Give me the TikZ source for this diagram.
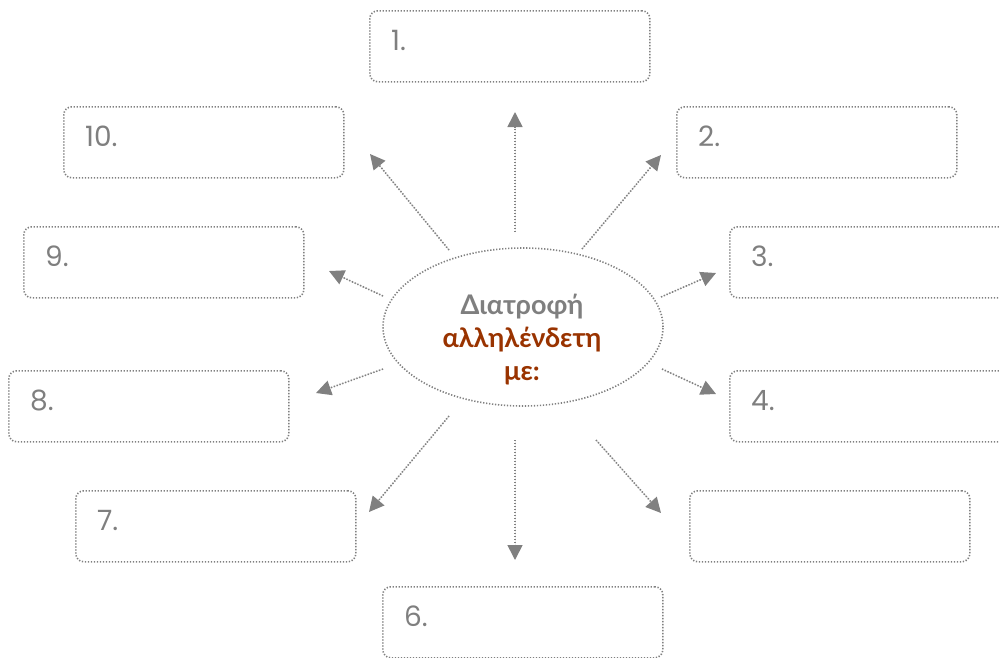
\documentclass[tikz,border=0pt]{standalone}
\usepackage{fontspec}
\setmainfont{Lato}
\newfontfamily\numfont{Poppins}
\usetikzlibrary{arrows.meta,shapes.geometric}
\definecolor{dgrey}{HTML}{7F7F7F}
\definecolor{lgrey}{HTML}{808080}
\definecolor{rbrown}{HTML}{993300}
\begin{document}
\begin{tikzpicture}[x=1pt,y=-1pt,
  dotline/.style={draw=lgrey, line width=1.6pt, dash pattern=on 1.3pt off 1.7pt},
  box/.style={dotline, rounded corners=8pt, minimum width=280pt, minimum height=71pt, anchor=north west, inner sep=0pt},
  num/.style={anchor=base west, text=dgrey, font=\numfont\fontsize{28}{30}\selectfont, inner sep=0pt},
  conn/.style={dotline, -{Triangle[length=15pt,width=15pt]}, draw=lgrey, fill=dgrey},
  centre/.style={dotline, ellipse, minimum width=280pt, minimum height=158pt, inner sep=0pt, align=center}
]
\useasboundingbox (0,0) rectangle (999,657);
\clip (0,0) rectangle (999,657);
% boxes
\node[box] (b1) at (369,10) {};
\node[box] (b2) at (676,106) {};
\node[box] (b3) at (729,226) {};
\node[box] (b4) at (729,370) {};
\node[box] (b5) at (689,490) {};
\node[box] (b6) at (382,586) {};
\node[box] (b7) at (75,490) {};
\node[box] (b8) at (8,370) {};
\node[box] (b9) at (23,226) {};
\node[box] (b10) at (63,106) {};
% labels
\node[num] (l1) at ([xshift=22pt,yshift=-40pt]b1.north west) {1.};
\node[num] (l2) at ([xshift=22pt,yshift=-40pt]b2.north west) {2.};
\node[num] (l3) at ([xshift=22pt,yshift=-40pt]b3.north west) {3.};
\node[num] (l4) at ([xshift=22pt,yshift=-40pt]b4.north west) {4.};
\node[num] (l6) at ([xshift=22pt,yshift=-40pt]b6.north west) {6.};
\node[num] (l7) at ([xshift=22pt,yshift=-40pt]b7.north west) {7.};
\node[num] (l8) at ([xshift=22pt,yshift=-40pt]b8.north west) {8.};
\node[num] (l9) at ([xshift=22pt,yshift=-40pt]b9.north west) {9.};
\node[num] (l10) at ([xshift=22pt,yshift=-40pt]b10.north west) {10.};
% centre
\node[centre] (c) at (523,327) {};
\node[align=center, font=\bfseries\fontsize{27}{33}\selectfont, inner sep=0pt] (ct) at (522,340)
  {\textcolor{dgrey}{Διατροφή}\\\textcolor{rbrown}{αλληλένδετη}\\\textcolor{rbrown}{με:}};
% connector ends
\coordinate (s1) at (515,232);  \coordinate (t1) at (515,112);
\coordinate (s2) at (582,249);  \coordinate (t2) at (661,155);
\coordinate (s3) at (661,297);  \coordinate (t3) at (716,273);
\coordinate (s4) at (662,369);  \coordinate (t4) at (716,394);
\coordinate (s5) at (596,440);  \coordinate (t5) at (661,513);
\coordinate (s6) at (515,440);  \coordinate (t6) at (515,560);
\coordinate (s7) at (449,416);  \coordinate (t7) at (369,512);
\coordinate (s8) at (383,369);  \coordinate (t8) at (316,393);
\coordinate (s9) at (383,296);  \coordinate (t9) at (329,271);
\coordinate (s10) at (449,250); \coordinate (t10) at (370,154);
\foreach \i in {1,...,10} {\draw[conn] (s\i) -- (t\i);}
\end{tikzpicture}
\end{document}
